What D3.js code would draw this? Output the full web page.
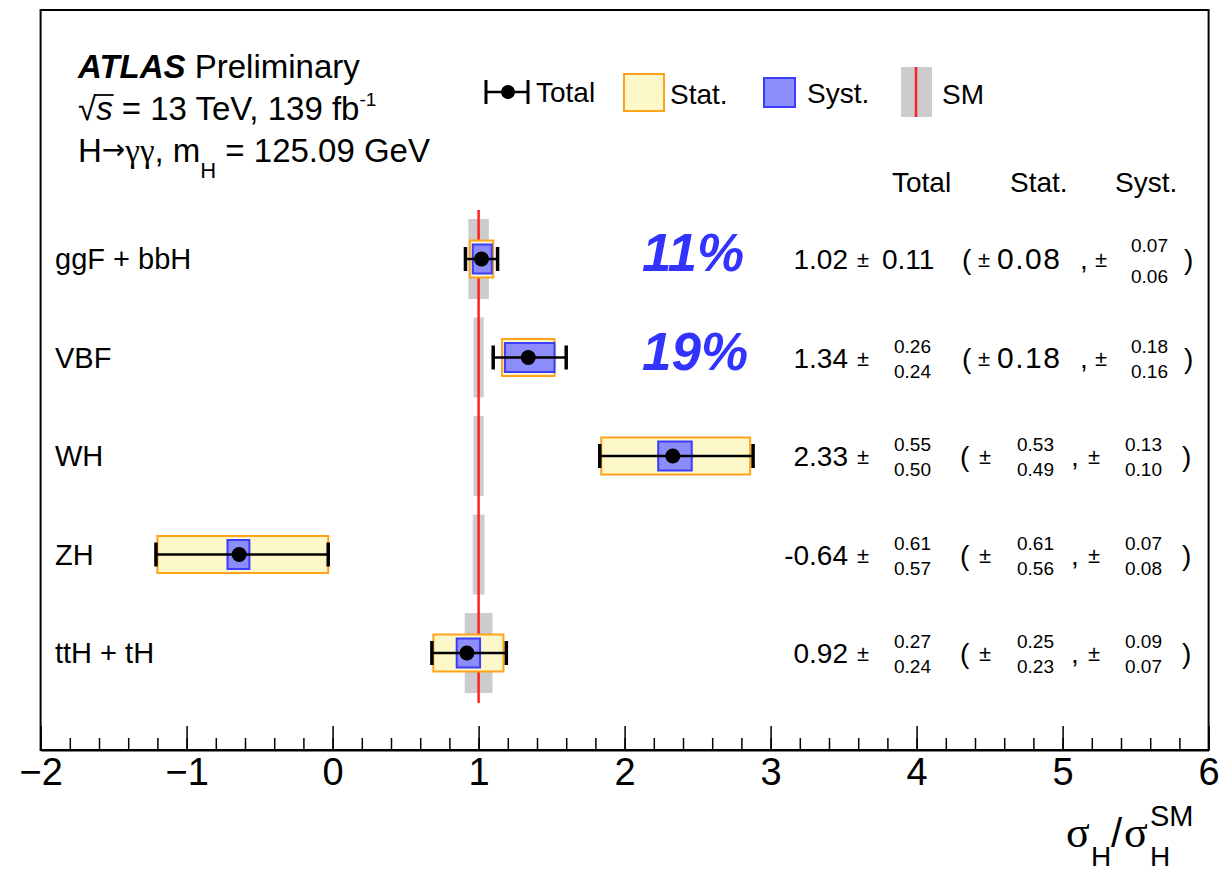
<!DOCTYPE html>
<html>
<head>
<meta charset="utf-8">
<script src="https://cdn.jsdelivr.net/npm/d3@7"></script>
<style>
  html, body { margin: 0; padding: 0; background: #fff; }
  svg text { font-family: "Liberation Sans", Arial, Helvetica, sans-serif; fill: #000; }
</style>
</head>
<body>
<svg id="chart" width="1225" height="873"></svg>
<script>
// Production modes and measured signal strengths
const categories = ["ggF + bbH", "VBF", "WH", "ZH", "ttH + tH"];
const mu       = [1.02, 1.34, 2.33, -0.64, 0.92];
const totUp    = [0.11, 0.26, 0.55, 0.61, 0.27];
const totDn    = [0.11, 0.24, 0.50, 0.57, 0.24];
const statUp   = [0.08, 0.18, 0.53, 0.61, 0.25];
const statDn   = [0.08, 0.18, 0.49, 0.56, 0.23];
const systUp   = [0.07, 0.18, 0.13, 0.07, 0.09];
const systDn   = [0.06, 0.16, 0.10, 0.08, 0.07];
// Theory uncertainty on the SM prediction (half width, in units of sigma/sigma_SM)
const smUnc    = [0.07, 0.035, 0.035, 0.04, 0.095];
// Relative precision labels
const precision = ["11%", "19%", null, null, null];
const xTicks = [-2, -1, 0, 1, 2, 3, 4, 5, 6];

const svg = d3.select("#chart");
const frame = { left: 40.6, right: 1208.6, top: 10, bottom: 750 };

const x = d3.scaleLinear().domain([-2, 6]).range([frame.left, frame.right]);
const y = d3.scalePoint().domain(categories).range([259, 653]);

const rows = categories.map((c, i) => ({
  cat: c, mu: mu[i], totUp: totUp[i], totDn: totDn[i],
  statUp: statUp[i], statDn: statDn[i], systUp: systUp[i], systDn: systDn[i],
  sm: smUnc[i], prec: precision[i]
}));

const colors = {
  statFill: "#fdf8c9", statStroke: "#ffa31a",
  systFill: "#8c8cfa", systStroke: "#3c3cff",
  smBand: "#cccccc", smLine: "#ff2020", prec: "#3333ff"
};

// SM bands
svg.append("g").selectAll("rect").data(rows).join("rect")
  .attr("x", d => x(1 - d.sm)).attr("width", d => x(1 + d.sm) - x(1 - d.sm))
  .attr("y", d => y(d.cat) - 40).attr("height", 80)
  .attr("fill", colors.smBand);

// SM line
svg.append("line")
  .attr("x1", x(1)).attr("x2", x(1))
  .attr("y1", 210).attr("y2", 703)
  .attr("stroke", colors.smLine).attr("stroke-width", 2.5);

// Statistical boxes
svg.append("g").selectAll("rect").data(rows).join("rect")
  .attr("x", d => x(d.mu - d.statDn)).attr("width", d => x(d.mu + d.statUp) - x(d.mu - d.statDn))
  .attr("y", d => y(d.cat) - 18.5).attr("height", 37)
  .attr("fill", colors.statFill).attr("stroke", colors.statStroke).attr("stroke-width", 2);

// Systematic boxes
svg.append("g").selectAll("rect").data(rows).join("rect")
  .attr("x", d => x(d.mu - d.systDn)).attr("width", d => x(d.mu + d.systUp) - x(d.mu - d.systDn))
  .attr("y", d => y(d.cat) - 14.5).attr("height", 29)
  .attr("fill", colors.systFill).attr("stroke", colors.systStroke).attr("stroke-width", 2);

// Total error bars
const eb = svg.append("g").selectAll("g").data(rows).join("g");
eb.append("line")
  .attr("x1", d => x(d.mu - d.totDn)).attr("x2", d => x(d.mu + d.totUp))
  .attr("y1", d => y(d.cat)).attr("y2", d => y(d.cat))
  .attr("stroke", "#000").attr("stroke-width", 2.5);
eb.append("line")
  .attr("x1", d => x(d.mu - d.totDn)).attr("x2", d => x(d.mu - d.totDn))
  .attr("y1", d => y(d.cat) - 12).attr("y2", d => y(d.cat) + 12)
  .attr("stroke", "#000").attr("stroke-width", 3.5);
eb.append("line")
  .attr("x1", d => x(d.mu + d.totUp)).attr("x2", d => x(d.mu + d.totUp))
  .attr("y1", d => y(d.cat) - 12).attr("y2", d => y(d.cat) + 12)
  .attr("stroke", "#000").attr("stroke-width", 3.5);
eb.append("circle")
  .attr("cx", d => x(d.mu)).attr("cy", d => y(d.cat)).attr("r", 7.5).attr("fill", "#000");

// Category labels
svg.append("g").selectAll("text").data(rows).join("text")
  .attr("x", 55).attr("y", d => y(d.cat) + 10)
  .attr("font-size", 29).text(d => d.cat);

// Relative precision
svg.append("g").selectAll("text").data(rows.filter(d => d.prec)).join("text")
  .attr("x", 642).attr("y", d => y(d.cat) + 12)
  .attr("font-size", 53).attr("font-weight", "bold").attr("font-style", "italic")
  .style("fill", colors.prec).text(d => d.prec);

// Numerical summary columns
const fmt = v => v.toFixed(2);
const headers = [["Total", 892], ["Stat.", 1010], ["Syst.", 1115]];
svg.append("g").selectAll("text").data(headers).join("text")
  .attr("x", d => d[1]).attr("y", 192).attr("font-size", 28).text(d => d[0]);

function stacked(g, xl, yc, up, dn, gap) {
  g.append("text").attr("x", xl).attr("y", yc - gap[0]).attr("font-size", 19).text(fmt(up));
  g.append("text").attr("x", xl).attr("y", yc + gap[1]).attr("font-size", 19).text(fmt(dn));
}
function pm(g, xl, yc) {
  g.append("text").attr("x", xl).attr("y", yc + 8).attr("font-size", 22).text("±");
}

rows.forEach(d => {
  const g = svg.append("g");
  const yc = y(d.cat);
  const base = yc + 10;
  g.append("text").attr("x", 848).attr("y", base).attr("text-anchor", "end")
    .attr("font-size", 28).text(fmt(d.mu));
  pm(g, 857, yc);
  if (d.totUp === d.totDn) {
    g.append("text").attr("x", 882).attr("y", base).attr("font-size", 28).text(fmt(d.totUp));
  } else {
    stacked(g, 894, yc, d.totUp, d.totDn, [5, 20]);
  }
  const symStat = d.statUp === d.statDn;
  const lay = symStat
    ? { open: 962, pm1: 978, stat: 997, comma: 1080, pm2: 1095, syst: 1131, close: 1184 }
    : { open: 960, pm1: 979, stat: 1017, comma: 1071, pm2: 1088, syst: 1125, close: 1182 };
  g.append("text").attr("x", lay.open).attr("y", base).attr("font-size", 28).text("(");
  pm(g, lay.pm1, yc);
  if (symStat) {
    g.append("text").attr("x", lay.stat).attr("y", base).attr("font-size", 30)
      .attr("letter-spacing", 1.5).text(fmt(d.statUp));
  } else {
    stacked(g, lay.stat, yc, d.statUp, d.statDn, [5, 20]);
  }
  g.append("text").attr("x", lay.comma).attr("y", base).attr("font-size", 28).text(",");
  pm(g, lay.pm2, yc);
  stacked(g, lay.syst, yc, d.systUp, d.systDn, symStat && d.totUp === d.totDn ? [7, 24] : [5, 20]);
  g.append("text").attr("x", lay.close).attr("y", base).attr("font-size", 28).text(")");
});

// Frame
svg.append("rect")
  .attr("x", frame.left).attr("y", frame.top)
  .attr("width", frame.right - frame.left).attr("height", frame.bottom - frame.top)
  .attr("fill", "none").attr("stroke", "#000").attr("stroke-width", 2);

// X axis: minor ticks, major ticks with labels
const minorTicks = d3.range(-2, 6.0001, 0.2).map(v => +v.toFixed(1));
svg.append("g").attr("transform", `translate(0,${frame.bottom})`)
  .call(d3.axisBottom(x).tickValues(minorTicks).tickSizeInner(-12).tickSizeOuter(0).tickFormat(""))
  .call(g => g.select(".domain").remove())
  .call(g => g.selectAll("line").attr("stroke-width", 1.5));
svg.append("g").attr("transform", `translate(0,${frame.bottom})`)
  .call(d3.axisBottom(x).tickValues(xTicks).tickSizeInner(-24).tickSizeOuter(0).tickPadding(8)
    .tickFormat(d => d < 0 ? "\u2212" + Math.abs(d) : String(d)))
  .call(g => g.select(".domain").attr("stroke-width", 2))
  .call(g => g.selectAll("line").attr("stroke-width", 1.5))
  .call(g => g.selectAll("text").attr("font-size", 38)
    .attr("font-family", "'Liberation Sans', Arial, sans-serif").attr("fill", "#000"));

// Axis title: sigma_H / sigma_H^SM
const at = svg.append("g");
const serif = "'Liberation Serif', 'DejaVu Serif', serif";
at.append("text").attr("x", 1066).attr("y", 847).attr("font-size", 44).style("font-family", serif).text("σ");
at.append("text").attr("x", 1091).attr("y", 866).attr("font-size", 28).text("H");
at.append("text").attr("x", 1111).attr("y", 847).attr("font-size", 40).text("/");
at.append("text").attr("x", 1124).attr("y", 847).attr("font-size", 44).style("font-family", serif).text("σ");
at.append("text").attr("x", 1150).attr("y", 866).attr("font-size", 28).text("H");
at.append("text").attr("x", 1150).attr("y", 826).attr("font-size", 29).text("SM");

// Top-left labels
const tl = svg.append("g");
const t1 = tl.append("text").attr("x", 78).attr("y", 78).attr("font-size", 33);
t1.append("tspan").attr("font-weight", "bold").attr("font-style", "italic").text("ATLAS");
t1.append("tspan").text(" Preliminary");
const t2 = tl.append("text").attr("x", 78).attr("y", 120).attr("font-size", 33);
t2.append("tspan").text("√");
t2.append("tspan").attr("font-style", "italic").text("s");
t2.append("tspan").text(" = 13 TeV, 139 fb");
t2.append("tspan").attr("font-size", 19).attr("dy", -14).text("-1");
{
  const n = t2.node();
  const s0 = n.getStartPositionOfChar(1), s1 = n.getEndPositionOfChar(1);
  tl.append("line").attr("x1", s0.x - 2).attr("x2", s1.x + 1)
    .attr("y1", 95).attr("y2", 95).attr("stroke", "#000").attr("stroke-width", 1.8);
}
const t3 = tl.append("text").attr("x", 78).attr("y", 162).attr("font-size", 33);
t3.append("tspan").text("H");
t3.append("tspan").attr("font-size", 28).attr("dy", -3).style("font-family", "'DejaVu Sans', sans-serif").text("→");
t3.append("tspan").attr("dy", 3).style("font-family", serif).text("γγ");
t3.append("tspan").text(", m");
t3.append("tspan").attr("font-size", 22).attr("dy", 16).text("H");
t3.append("tspan").attr("dy", -16).text(" = 125.09 GeV");

// Legend
const lg = svg.append("g");
lg.append("line").attr("x1", 486).attr("x2", 528).attr("y1", 92).attr("y2", 92).attr("stroke", "#000").attr("stroke-width", 2.5);
lg.append("line").attr("x1", 486).attr("x2", 486).attr("y1", 80).attr("y2", 104).attr("stroke", "#000").attr("stroke-width", 3);
lg.append("line").attr("x1", 528).attr("x2", 528).attr("y1", 80).attr("y2", 104).attr("stroke", "#000").attr("stroke-width", 3);
lg.append("circle").attr("cx", 508).attr("cy", 92).attr("r", 7).attr("fill", "#000");
lg.append("text").attr("x", 536).attr("y", 102).attr("font-size", 28).text("Total");
lg.append("rect").attr("x", 624).attr("y", 74).attr("width", 40).attr("height", 37)
  .attr("fill", colors.statFill).attr("stroke", colors.statStroke).attr("stroke-width", 2);
lg.append("text").attr("x", 670).attr("y", 104).attr("font-size", 28).text("Stat.");
lg.append("rect").attr("x", 764).attr("y", 78).attr("width", 31).attr("height", 29)
  .attr("fill", colors.systFill).attr("stroke", colors.systStroke).attr("stroke-width", 2);
lg.append("text").attr("x", 807).attr("y", 103).attr("font-size", 28).text("Syst.");
lg.append("rect").attr("x", 901).attr("y", 67).attr("width", 31).attr("height", 50).attr("fill", colors.smBand);
lg.append("line").attr("x1", 916).attr("x2", 916).attr("y1", 67).attr("y2", 117)
  .attr("stroke", colors.smLine).attr("stroke-width", 2.5);
lg.append("text").attr("x", 942).attr("y", 104).attr("font-size", 28).text("SM");
</script>
</body>
</html>
